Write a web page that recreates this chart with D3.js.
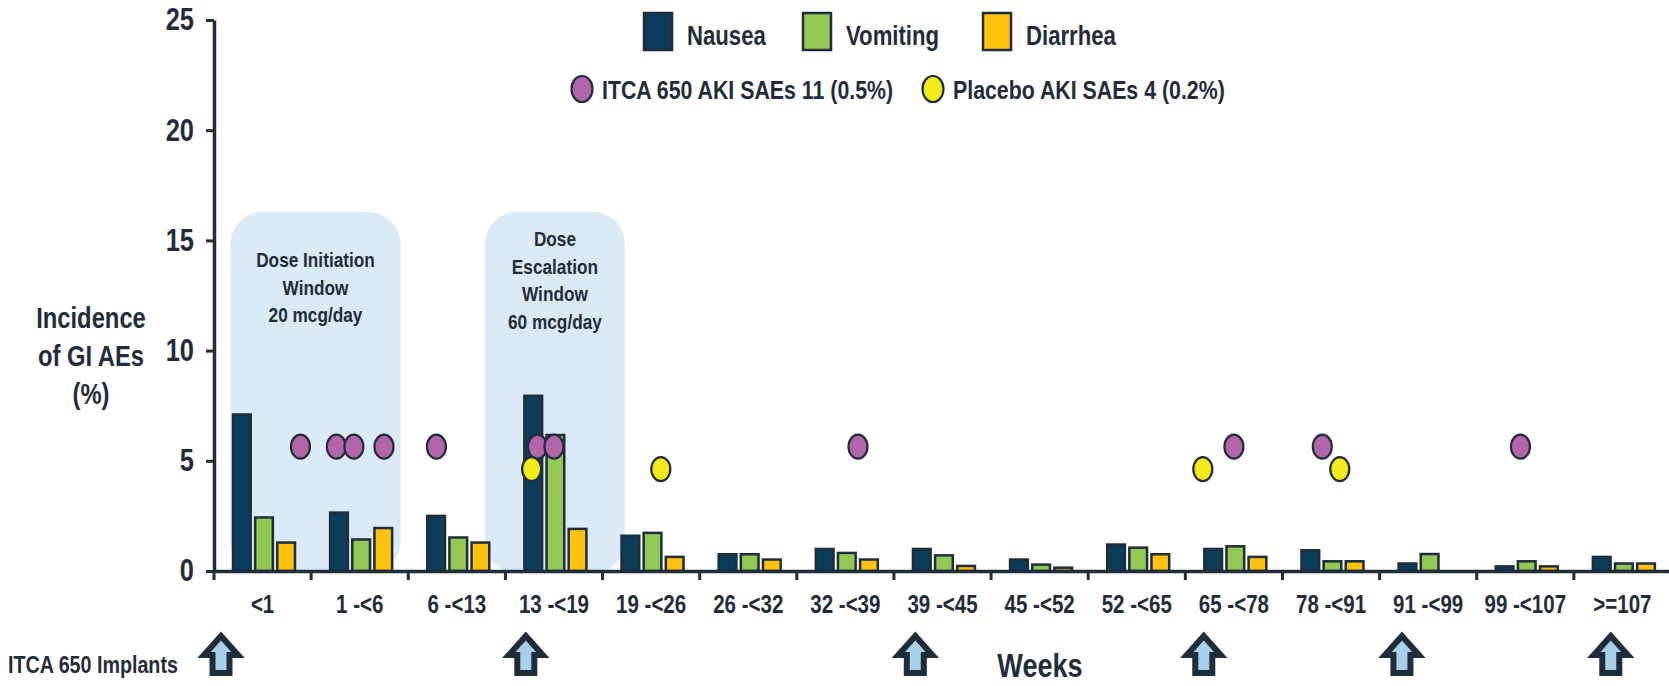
<!DOCTYPE html>
<html>
<head>
<meta charset="utf-8">
<script src="https://cdn.jsdelivr.net/npm/d3@7"></script>
<style>
  body { margin: 0; background: #fff; }
  svg text { font-family: "Liberation Sans Narrow", "Arial Narrow", "Liberation Sans", sans-serif; font-weight: bold; fill: #1f2d3a; }
</style>
</head>
<body>
<script>
// categories (weeks) and series
const weeks = ["<1", "1 -<6", "6 -<13", "13 -<19", "19 -<26", "26 -<32", "32 -<39", "39 -<45",
    "45 -<52", "52 -<65", "65 -<78", "78 -<91", "91 -<99", "99 -<107", ">=107"];
const seriesNames = ["Nausea", "Vomiting", "Diarrhea"];
const nausea = [7.1, 2.65, 2.5, 7.95, 1.6, 0.76, 1.0, 1.0, 0.52, 1.2, 1.0, 0.94, 0.34, 0.21, 0.64];
const vomiting = [2.43, 1.43, 1.52, 6.17, 1.73, 0.76, 0.82, 0.71, 0.29, 1.06, 1.12, 0.44, 0.77, 0.44, 0.34];
const diarrhea = [1.29, 1.95, 1.29, 1.91, 0.64, 0.52, 0.52, 0.23, 0.15, 0.76, 0.64, 0.44, 0, 0.21, 0.34];
const yTicks = [0, 5, 10, 15, 20, 25];

// AKI SAE events: week bin, place inside the bin (0..1), plotted value
const itcaWeek = ["<1", "1 -<6", "1 -<6", "1 -<6", "6 -<13", "13 -<19", "13 -<19", "32 -<39", "65 -<78", "78 -<91", "99 -<107"];
const itcaPlace = [0.89, 0.26, 0.44, 0.75, 0.29, 0.33, 0.50, 0.63, 0.50, 0.41, 0.45];
const itcaValue = [5.64, 5.64, 5.64, 5.64, 5.64, 5.64, 5.64, 5.64, 5.64, 5.64, 5.64];
const placeboWeek = ["13 -<19", "19 -<26", "65 -<78", "78 -<91"];
const placeboPlace = [0.27, 0.60, 0.18, 0.59];
const placeboValue = [4.62, 4.62, 4.62, 4.62];

// implant arrows
const implantWeek = ["<1", "13 -<19", "39 -<45", "65 -<78", "91 -<99", ">=107"];
const implantPlace = [0.072, 0.21, 0.22, 0.19, 0.23, 0.38];

// dose windows
const windows = [
    { from: "<1", fromPlace: 0.17, to: "1 -<6", toPlace: 0.92, lines: ["Dose Initiation", "Window", "20 mcg/day"] },
    { from: "13 -<19", fromPlace: -0.21, to: "13 -<19", toPlace: 1.23, lines: ["Dose", "Escalation", "Window", "60 mcg/day"] }
];

const ink = "#1f2d3a";
const colors = ["#0b3d5b", "#92c955", "#ffc20e"];

const W = 1669, H = 686;
const svg = d3.select("body")
    .append("svg")
    .attr("width", W)
    .attr("height", H);

// scales
const x = d3.scaleBand().domain(weeks).range([214, 1671]).paddingInner(0).paddingOuter(0);
const x1 = d3.scaleBand().domain(seriesNames).range([19, 81]).paddingInner(0.2);
const y = d3.scaleLinear().domain([0, 25]).range([571, 20]);
const bw = x.bandwidth();

// dose windows (behind bars)
windows.forEach(w => {
    const x0 = x(w.from) + w.fromPlace * bw;
    const x2 = x(w.to) + w.toPlace * bw;
    svg.append("rect")
        .attr("x", x0).attr("y", 212)
        .attr("width", x2 - x0).attr("height", y(0) - 212 + 2)
        .attr("rx", 32).attr("ry", 32)
        .attr("fill", "#daebf7");
    const cx = (x0 + x2) / 2;
    const startY = w.lines.length === 3 ? 267 : 246;
    w.lines.forEach((t, i) => {
        svg.append("text")
            .attr("x", cx).attr("y", startY + i * 27.5)
            .attr("text-anchor", "middle")
            .style("font-size", "21px")
            .text(t);
    });
});

// bars
const table = weeks.map((wk, i) => ({ week: wk, values: [nausea[i], vomiting[i], diarrhea[i]] }));
svg.append("g")
    .selectAll("g")
    .data(table)
    .join("g")
    .attr("transform", d => `translate(${x(d.week)},0)`)
    .selectAll("rect")
    .data(d => d.values.map((v, k) => ({ name: seriesNames[k], v: v, k: k })).filter(e => e.v > 0))
    .join("rect")
    .attr("x", d => x1(d.name))
    .attr("y", d => y(d.v))
    .attr("width", x1.bandwidth())
    .attr("height", d => y(0) - y(d.v))
    .attr("fill", d => colors[d.k])
    .attr("stroke", ink)
    .attr("stroke-width", 2.5);

// Add Y axis
const yAxis = svg.append("g")
    .attr("transform", "translate(214,0)")
    .call(d3.axisLeft(y).tickValues(yTicks).tickSize(8).tickSizeOuter(0).tickPadding(12));
yAxis.select(".domain").attr("stroke", ink).attr("stroke-width", 3.5);
yAxis.selectAll(".tick line").attr("stroke", ink).attr("stroke-width", 3);
yAxis.selectAll(".tick text").style("font-size", "31px").attr("fill", ink);

// Add X axis
const xAxis = svg.append("g")
    .attr("transform", `translate(0,${y(0)})`)
    .call(d3.axisBottom(x).tickSize(0).tickSizeOuter(0).tickPadding(24));
xAxis.select(".domain").attr("stroke", ink).attr("stroke-width", 3.5);
xAxis.selectAll(".tick text").style("font-size", "25px").attr("fill", ink);
svg.append("g")
    .selectAll("line")
    .data(weeks)
    .join("line")
    .attr("x1", d => x(d)).attr("x2", d => x(d))
    .attr("y1", y(0)).attr("y2", y(0) + 9)
    .attr("stroke", ink).attr("stroke-width", 3);

// SAE dots
const dotData = itcaWeek.map((wk, i) => ({ wk: wk, p: itcaPlace[i], v: itcaValue[i], c: "#b265a9" }))
    .concat(placeboWeek.map((wk, i) => ({ wk: wk, p: placeboPlace[i], v: placeboValue[i], c: "#f3ea1c" })));
svg.append("g")
    .selectAll("ellipse")
    .data(dotData)
    .join("ellipse")
    .attr("cx", d => x(d.wk) + d.p * bw)
    .attr("cy", d => y(d.v))
    .attr("rx", 9.5).attr("ry", 12)
    .attr("fill", d => d.c)
    .attr("stroke", ink).attr("stroke-width", 2.2);

// legend - bars
const legX = [644, 803, 983];
seriesNames.forEach((n, i) => {
    svg.append("rect")
        .attr("x", legX[i]).attr("y", 13)
        .attr("width", 28).attr("height", 37)
        .attr("fill", colors[i]).attr("stroke", ink).attr("stroke-width", 2.5);
    svg.append("text")
        .attr("x", legX[i] + 43).attr("y", 45)
        .style("font-size", "27px")
        .text(n);
});

// legend - dots
const dotLegend = [
    { x: 582, c: "#b265a9", t: "ITCA 650 AKI SAEs 11 (0.5%)" },
    { x: 933, c: "#f3ea1c", t: "Placebo AKI SAEs 4 (0.2%)" }
];
dotLegend.forEach(d => {
    svg.append("ellipse")
        .attr("cx", d.x).attr("cy", 89)
        .attr("rx", 10.5).attr("ry", 13)
        .attr("fill", d.c).attr("stroke", ink).attr("stroke-width", 2.2);
    svg.append("text")
        .attr("x", d.x + 20).attr("y", 99)
        .style("font-size", "26px")
        .text(d.t);
});

// Y title
["Incidence", "of GI AEs", "(%)"].forEach((t, i) => {
    svg.append("text")
        .attr("x", 91).attr("y", 328 + i * 38)
        .attr("text-anchor", "middle")
        .style("font-size", "29px")
        .text(t);
});

// X title
svg.append("text")
    .attr("x", 1040).attr("y", 677)
    .attr("text-anchor", "middle")
    .style("font-size", "33px")
    .text("Weeks");

// implant arrows
svg.append("text")
    .attr("x", 8).attr("y", 673)
    .style("font-size", "24px")
    .text("ITCA 650 Implants");
svg.append("g")
    .selectAll("path")
    .data(implantWeek.map((wk, i) => x(wk) + implantPlace[i] * bw))
    .join("path")
    .attr("transform", d => `translate(${d},636)`)
    .attr("d", "M0,0 L17,19 L8.5,19 L8.5,37 L-8.5,37 L-8.5,19 L-17,19 Z")
    .attr("fill", "#a8d0ea")
    .attr("stroke", ink)
    .attr("stroke-width", 6)
    .attr("stroke-linejoin", "miter");

// no narrow font installed: squeeze the bold sans to a narrow width
svg.selectAll("text").each(function () {
    const len = this.getComputedTextLength();
    d3.select(this)
        .attr("textLength", len * 0.82)
        .attr("lengthAdjust", "spacingAndGlyphs");
});
</script>
</body>
</html>
